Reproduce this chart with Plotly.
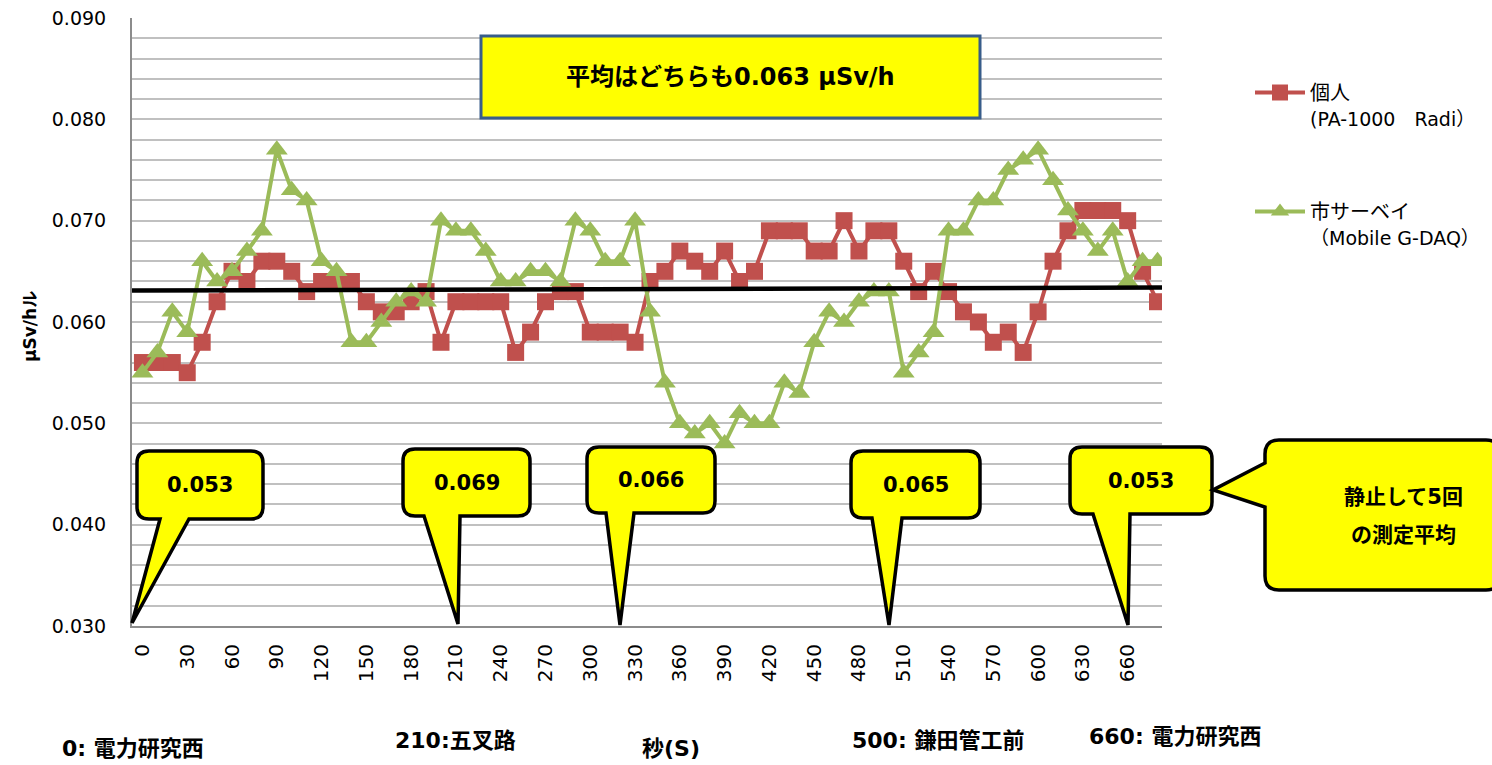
import plotly.graph_objects as go

# ---------------- data ----------------
time_s = [0, 10, 20, 30, 40, 50, 60, 70, 80, 90, 100, 110, 120, 130, 140, 150, 160, 170,
          180, 190, 200, 210, 220, 230, 240, 250, 260, 270, 280, 290, 300, 310, 320, 330,
          340, 350, 360, 370, 380, 390, 400, 410, 420, 430, 440, 450, 460, 470, 480, 490,
          500, 510, 520, 530, 540, 550, 560, 570, 580, 590, 600, 610, 620, 630, 640, 650,
          660, 670, 680]

personal = [0.056, 0.056, 0.056, 0.055, 0.058, 0.062, 0.065, 0.064, 0.066, 0.066,
            0.065, 0.063, 0.064, 0.064, 0.064, 0.062, 0.061, 0.061, 0.062, 0.063,
            0.058, 0.062, 0.062, 0.062, 0.062, 0.057, 0.059, 0.062, 0.063, 0.063,
            0.059, 0.059, 0.059, 0.058, 0.064, 0.065, 0.067, 0.066, 0.065, 0.067,
            0.064, 0.065, 0.069, 0.069, 0.069, 0.067, 0.067, 0.070, 0.067, 0.069,
            0.069, 0.066, 0.063, 0.065, 0.063, 0.061, 0.060, 0.058, 0.059, 0.057,
            0.061, 0.066, 0.069, 0.071, 0.071, 0.071, 0.070, 0.065, 0.062]

survey = [0.055, 0.057, 0.061, 0.059, 0.066, 0.064, 0.065, 0.067, 0.069, 0.077,
          0.073, 0.072, 0.066, 0.065, 0.058, 0.058, 0.060, 0.062, 0.063, 0.062,
          0.070, 0.069, 0.069, 0.067, 0.064, 0.064, 0.065, 0.065, 0.064, 0.070,
          0.069, 0.066, 0.066, 0.070, 0.061, 0.054, 0.050, 0.049, 0.050, 0.048,
          0.051, 0.050, 0.050, 0.054, 0.053, 0.058, 0.061, 0.060, 0.062, 0.063,
          0.063, 0.055, 0.057, 0.059, 0.069, 0.069, 0.072, 0.072, 0.075, 0.076,
          0.077, 0.074, 0.071, 0.069, 0.067, 0.069, 0.064, 0.066, 0.066]

x_tick_vals = [0, 30, 60, 90, 120, 150, 180, 210, 240, 270, 300, 330, 360, 390, 420,
               450, 480, 510, 540, 570, 600, 630, 660]
y_tick_vals = [0.030, 0.040, 0.050, 0.060, 0.070, 0.080, 0.090]

mean_x = [-7, 683]
mean_y = [0.0631, 0.0634]

series_names = ["個人<br><span style='font-size:19px'>(PA-1000　Radi）</span>",
                "市サーベイ<br><span style='font-size:19px'>（Mobile G-DAQ）</span>"]
callout_values = ["0.053", "0.069", "0.066", "0.065", "0.053"]
note_lines = ["静止して5回", "の測定平均"]
title_text = "平均はどちらも0.063 μSv/h"
bottom_labels = ["0: 電力研究西", "210:五叉路", "秒(S)", "500: 鎌田管工前", "660: 電力研究西"]
y_title = "μSv/hル"

# ---------------- styling / layout ----------------
W, H = 1492, 765
PL, PR, PT, PB = 132, 1162, 18, 626   # plot area in pixels
RED = "#C0504D"
GREEN = "#9BBB59"
FONT = "DejaVu Sans, Noto Sans CJK JP, sans-serif"
BFONT = "DejaVu Sans, Noto Sans CJK JP, sans-serif"


def px(X, Y):
    return (X - PL) / (PR - PL), (PB - Y) / (PB - PT)


def pth(points):
    out = []
    for cmd, pts in points:
        coords = " ".join("%.5f,%.5f" % px(*p) for p in pts)
        out.append(cmd + " " + coords)
    return " ".join(out) + " Z"


def callout_bottom(x0, y0, x1, y1, ta, tb, tip, r=12):
    return pth([
        ("M", [(x0 + r, y0)]),
        ("L", [(x1 - r, y0)]),
        ("Q", [(x1, y0), (x1, y0 + r)]),
        ("L", [(x1, y1 - r)]),
        ("Q", [(x1, y1), (x1 - r, y1)]),
        ("L", [(tb, y1)]),
        ("L", [tip]),
        ("L", [(ta, y1)]),
        ("L", [(x0 + r, y1)]),
        ("Q", [(x0, y1), (x0, y1 - r)]),
        ("L", [(x0, y0 + r)]),
        ("Q", [(x0, y0), (x0 + r, y0)]),
    ])


def callout_left(x0, y0, x1, y1, ta, tb, tip, r=14):
    return pth([
        ("M", [(x0 + r, y0)]),
        ("L", [(x1 - r, y0)]),
        ("Q", [(x1, y0), (x1, y0 + r)]),
        ("L", [(x1, y1 - r)]),
        ("Q", [(x1, y1), (x1 - r, y1)]),
        ("L", [(x0 + r, y1)]),
        ("Q", [(x0, y1), (x0, y1 - r)]),
        ("L", [(x0, tb)]),
        ("L", [tip]),
        ("L", [(x0, ta)]),
        ("L", [(x0, y0 + r)]),
        ("Q", [(x0, y0), (x0 + r, y0)]),
    ])


callout_geom = [
    dict(x0=137, y0=451, x1=263, y1=519, ta=160, tb=189, tip=(132, 623)),
    dict(x0=403, y0=449, x1=530, y1=516, ta=424, tb=460, tip=(458, 624)),
    dict(x0=587, y0=447, x1=715, y1=513, ta=606, tb=634, tip=(620, 625)),
    dict(x0=851, y0=451, x1=980, y1=518, ta=872, tb=902, tip=(889, 625)),
    dict(x0=1070, y0=447, x1=1212, y1=514, ta=1093, tb=1130, tip=(1128, 625)),
]
note_geom = dict(x0=1265, y0=440, x1=1500, y1=590, ta=463, tb=507, tip=(1213, 490))
title_box = (481, 36, 980, 118)
bottom_pos = [(60, 748), (393, 740), (640, 748), (850, 740), (1087, 736)]

fig = go.Figure()

fig.add_trace(go.Scatter(
    x=time_s, y=personal, name=series_names[0], mode="lines+markers",
    line=dict(color=RED, width=4),
    marker=dict(symbol="square", size=17, color=RED),
    legendgroup="a",
))
fig.add_trace(go.Scatter(
    x=time_s, y=survey, name=series_names[1], mode="lines+markers",
    line=dict(color=GREEN, width=4),
    marker=dict(symbol="triangle-up", size=19, color=GREEN),
    legendgroup="b",
))
fig.add_trace(go.Scatter(
    x=mean_x, y=mean_y, mode="lines", line=dict(color="black", width=4.5),
    showlegend=False, hoverinfo="skip",
))

shapes = []
annotations = []

# title box
x0, y0, x1, y1 = title_box
a = px(x0, y1)
b = px(x1, y0)
shapes.append(dict(type="rect", xref="paper", yref="paper", x0=a[0], y0=a[1], x1=b[0], y1=b[1],
                   fillcolor="#FFFF00", line=dict(color="#385D8A", width=3), layer="above"))
cx, cy = px((x0 + x1) / 2, (y0 + y1) / 2)
annotations.append(dict(xref="paper", yref="paper", x=cx, y=cy, text="<b>%s</b>" % title_text,
                        showarrow=False, font=dict(size=24, family=BFONT, color="black"),
                        xanchor="center", yanchor="middle"))

# callouts
for g, val in zip(callout_geom, callout_values):
    shapes.append(dict(type="path", xref="paper", yref="paper",
                       path=callout_bottom(g["x0"], g["y0"], g["x1"], g["y1"], g["ta"], g["tb"], g["tip"]),
                       fillcolor="#FFFF00", line=dict(color="black", width=3.5), layer="above"))
    cx, cy = px((g["x0"] + g["x1"]) / 2, (g["y0"] + g["y1"]) / 2)
    annotations.append(dict(xref="paper", yref="paper", x=cx, y=cy, text="<b>%s</b>" % val,
                            showarrow=False, font=dict(size=21, family=BFONT, color="black"),
                            xanchor="center", yanchor="middle"))

g = note_geom
shapes.append(dict(type="path", xref="paper", yref="paper",
                   path=callout_left(g["x0"], g["y0"], g["x1"], g["y1"], g["ta"], g["tb"], g["tip"]),
                   fillcolor="#FFFF00", line=dict(color="black", width=3.5), layer="above"))
for i, line in enumerate(note_lines):
    cx, cy = px(1403, 497 + i * 38)
    annotations.append(dict(xref="paper", yref="paper", x=cx, y=cy, text="<b>%s</b>" % line,
                            showarrow=False, font=dict(size=21, family=BFONT, color="black"),
                            xanchor="center", yanchor="middle"))

# bottom labels
for (bx, by), txt in zip(bottom_pos, bottom_labels):
    cx, cy = px(bx, by)
    annotations.append(dict(xref="paper", yref="paper", x=cx, y=cy, text="<b>%s</b>" % txt,
                            showarrow=False, font=dict(size=22, family=BFONT, color="black"),
                            xanchor="left", yanchor="middle"))

# y title
cx, cy = px(30, 327)
annotations.append(dict(xref="paper", yref="paper", x=cx, y=cy, text="<b>%s</b>" % y_title,
                        showarrow=False, textangle=-90, font=dict(size=17, family=BFONT, color="black"),
                        xanchor="center", yanchor="middle"))

fig.update_layout(
    width=W, height=H,
    margin=dict(l=PL, r=W - PR, t=PT, b=H - PB, autoexpand=False),
    paper_bgcolor="white", plot_bgcolor="white",
    font=dict(family=FONT, color="black"),
    shapes=shapes, annotations=annotations,
    showlegend=True,
    legend=dict(x=(1250 - PL) / (PR - PL), y=(PB - 73) / (PB - PT), xanchor="left", yanchor="top",
                font=dict(size=20, family=FONT, color="black"), tracegroupgap=64,
                itemwidth=50, bgcolor="rgba(0,0,0,0)", valign="top", traceorder="grouped"),
    xaxis=dict(range=[-7, 683], tickmode="array", tickvals=x_tick_vals,
               ticktext=[str(v) for v in x_tick_vals], tickangle=-90,
               tickfont=dict(size=20, family=FONT, color="black"),
               showgrid=False, zeroline=False, showline=True, linecolor="#8C8C8C", linewidth=2,
               ticks="", ticklabelstandoff=8, fixedrange=True),
    yaxis=dict(range=[0.030, 0.090], tickmode="array", tickvals=y_tick_vals,
               tickformat=".3f", tickfont=dict(size=19, family=FONT, color="black"),
               showgrid=True, gridcolor="#C0C0C0", gridwidth=2,
               minor=dict(dtick=0.002, showgrid=True, gridcolor="#C0C0C0", gridwidth=2),
               zeroline=False, showline=True, linecolor="#8C8C8C", linewidth=2, ticks="",
               ticklabelstandoff=20),
)

fig.write_html("out.html", config={"displayModeBar": False},
               post_script="document.body.style.margin='0px';document.body.style.overflow='hidden';")
